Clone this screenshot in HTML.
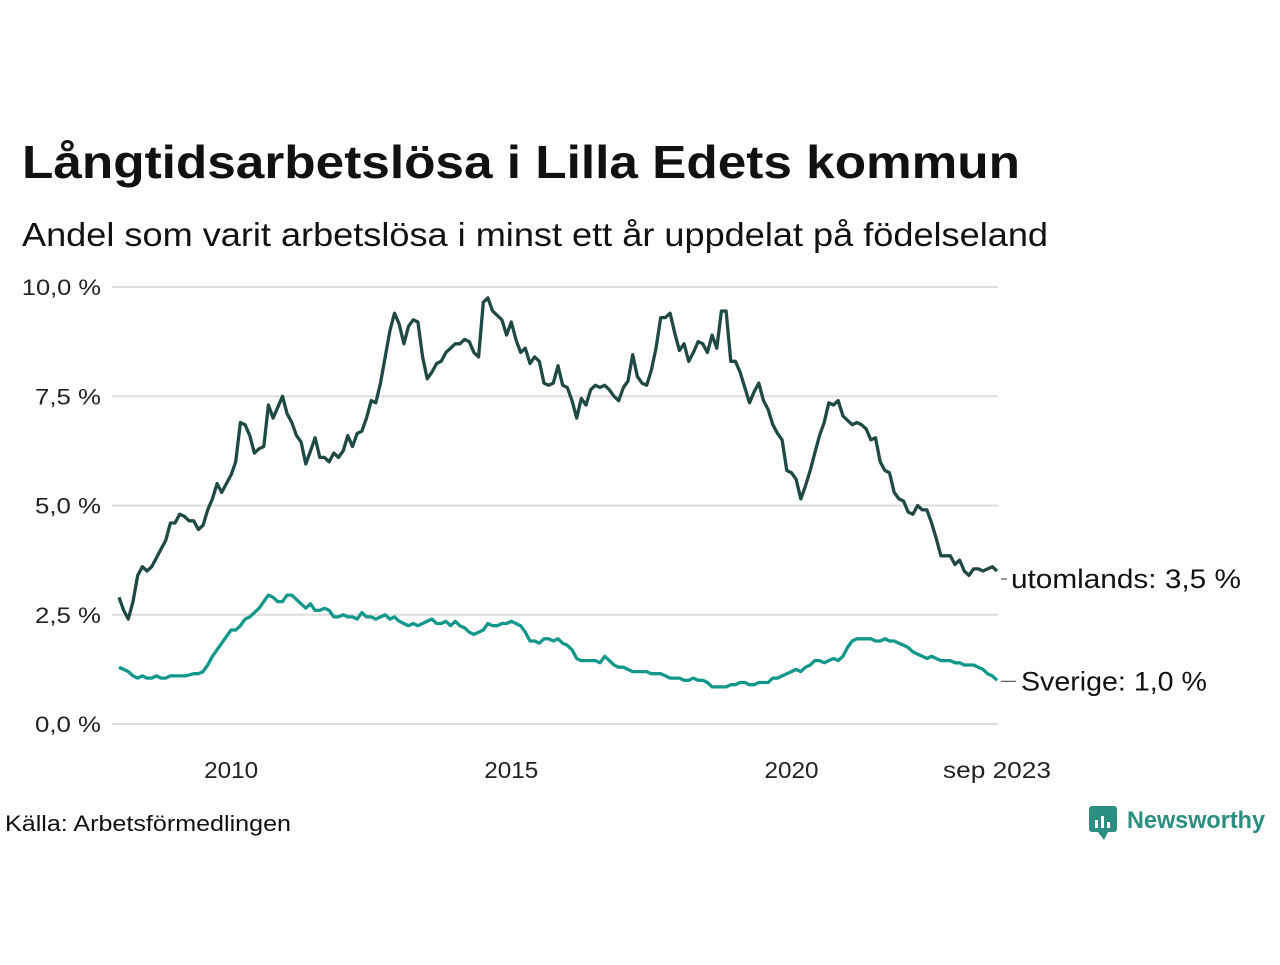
<!DOCTYPE html>
<html><head><meta charset="utf-8"><style>
body{margin:0;background:#fff;width:1280px;height:960px;overflow:hidden;font-family:"Liberation Sans",sans-serif}
</style></head><body>
<svg id="chart" width="1280" height="960" xmlns="http://www.w3.org/2000/svg" font-family="Liberation Sans, sans-serif">
<text x="22" y="178" font-size="46" font-weight="bold" fill="#111" textLength="998" lengthAdjust="spacingAndGlyphs">Långtidsarbetslösa i Lilla Edets kommun</text>
<text x="22" y="246" font-size="33" fill="#111" textLength="1026" lengthAdjust="spacingAndGlyphs">Andel som varit arbetslösa i minst ett år uppdelat på födelseland</text>
<g id="grid"></g><g id="lines"></g><g id="labels"></g>
<text x="5" y="831" font-size="22" fill="#111" textLength="286" lengthAdjust="spacingAndGlyphs">Källa: Arbetsförmedlingen</text>
<g>
<rect x="1089" y="806" width="28" height="26" rx="3" fill="#2a8f80"/>
<polygon points="1098,832 1104,840 1108,832" fill="#2a8f80"/>
<rect x="1095" y="820" width="3" height="8" fill="#fff"/><rect x="1101" y="816" width="3" height="12" fill="#fff"/><rect x="1107" y="822" width="3" height="6" fill="#fff"/>
<text x="1127" y="828" font-size="24" font-weight="bold" fill="#2a8f80" textLength="138" lengthAdjust="spacingAndGlyphs">Newsworthy</text>
</g>
</svg>
<script>
const yTicks=[0,2.5,5,7.5,10];
const yTickLabels=["0,0 %","2,5 %","5,0 %","7,5 %","10,0 %"];
const xTicks=[2010,2015,2020,2023.667];
const xTickLabels=["2010","2015","2020","sep 2023"];
const startYear=2008;
const foreign=[2.9,2.6,2.4,2.8,3.4,3.6,3.5,3.6,3.8,4.0,4.2,4.6,
4.6,4.8,4.75,4.65,4.65,4.45,4.55,4.9,5.15,5.5,5.3,5.5,
5.7,6.0,6.9,6.85,6.6,6.2,6.3,6.35,7.3,7.0,7.25,7.5,
7.1,6.9,6.6,6.45,5.95,6.25,6.55,6.1,6.1,6.0,6.2,6.1,
6.25,6.6,6.35,6.65,6.7,7.0,7.4,7.35,7.8,8.4,9.0,9.4,
9.15,8.7,9.1,9.25,9.2,8.4,7.9,8.05,8.25,8.3,8.5,8.6,
8.7,8.7,8.8,8.75,8.5,8.4,9.65,9.75,9.45,9.35,9.25,8.9,
9.2,8.8,8.5,8.6,8.25,8.4,8.3,7.8,7.75,7.8,8.2,7.75,
7.7,7.4,7.0,7.45,7.3,7.65,7.75,7.7,7.75,7.65,7.5,7.4,
7.7,7.85,8.45,7.95,7.8,7.75,8.1,8.6,9.3,9.3,9.4,8.95,
8.55,8.7,8.3,8.5,8.75,8.7,8.5,8.9,8.6,9.45,9.45,8.3,
8.3,8.05,7.7,7.35,7.6,7.8,7.4,7.2,6.85,6.65,6.5,5.8,
5.75,5.6,5.15,5.45,5.8,6.2,6.6,6.9,7.35,7.3,7.4,7.05,
6.95,6.85,6.9,6.85,6.75,6.5,6.55,6.0,5.8,5.75,5.3,5.15,
5.1,4.85,4.8,5.0,4.9,4.9,4.6,4.25,3.85,3.85,3.85,3.65,
3.75,3.5,3.4,3.55,3.55,3.5,3.55,3.6,3.5];
const sweden=[1.3,1.25,1.2,1.1,1.05,1.1,1.05,1.05,1.1,1.05,1.05,1.1,
1.1,1.1,1.1,1.12,1.15,1.15,1.2,1.35,1.55,1.7,1.85,2.0,
2.15,2.15,2.25,2.4,2.45,2.55,2.65,2.8,2.95,2.9,2.8,2.8,
2.95,2.95,2.85,2.75,2.65,2.75,2.6,2.6,2.65,2.6,2.45,2.45,
2.5,2.45,2.45,2.4,2.55,2.45,2.45,2.4,2.45,2.5,2.4,2.45,
2.35,2.3,2.25,2.3,2.25,2.3,2.35,2.4,2.3,2.3,2.35,2.25,
2.35,2.25,2.2,2.1,2.05,2.1,2.15,2.3,2.25,2.25,2.3,2.3,
2.35,2.3,2.25,2.1,1.9,1.9,1.85,1.95,1.95,1.9,1.95,1.85,
1.8,1.7,1.5,1.45,1.45,1.45,1.45,1.4,1.55,1.45,1.35,1.3,
1.3,1.25,1.2,1.2,1.2,1.2,1.15,1.15,1.15,1.1,1.05,1.05,
1.05,1.0,1.0,1.05,1.0,1.0,0.95,0.85,0.85,0.85,0.85,0.9,
0.9,0.95,0.95,0.9,0.9,0.95,0.95,0.95,1.05,1.05,1.1,1.15,
1.2,1.25,1.2,1.3,1.35,1.45,1.45,1.4,1.45,1.5,1.45,1.55,
1.75,1.9,1.95,1.95,1.95,1.95,1.9,1.9,1.95,1.9,1.9,1.85,
1.8,1.75,1.65,1.6,1.55,1.5,1.55,1.5,1.45,1.45,1.45,1.4,
1.4,1.35,1.35,1.35,1.3,1.25,1.15,1.1,1.0];
const NS="http://www.w3.org/2000/svg";
const X=t=>119+(t-2008)*56.04;
const Y=v=>724-v*43.7;
const tOf=i=>startYear+i/12;
function mk(tag,attrs,parent){const e=document.createElementNS(NS,tag);for(const k in attrs)e.setAttribute(k,attrs[k]);parent.appendChild(e);return e;}
const grid=document.getElementById('grid'),lines=document.getElementById('lines'),labels=document.getElementById('labels');
yTicks.forEach((v,i)=>{
 const l=mk('line',{x1:112,x2:998,y1:Y(v),y2:Y(v),stroke:'#dedede','stroke-width':2},grid);
 
 
 const t=mk('text',{x:101,y:Y(v)+8,'text-anchor':'end','font-size':22,fill:'#222',textLength:yTickLabels[i].length*13.2,lengthAdjust:'spacingAndGlyphs'},grid);
 t.textContent=yTickLabels[i];
 
 
});
xTicks.forEach((v,i)=>{
 const t=mk('text',{x:X(v),y:778,'text-anchor':'middle','font-size':23,fill:'#222',textLength:xTickLabels[i].length*13.5,lengthAdjust:'spacingAndGlyphs'},grid);
 t.textContent=xTickLabels[i];
 
 
});
function line(data,color,name){
 const d=data.map((v,i)=>(i?'L':'M')+X(tOf(i)).toFixed(1)+','+Y(v).toFixed(1)).join('');
 const p=mk('path',{d:d,fill:'none',stroke:color,'stroke-width':3.3,'stroke-linejoin':'round'},lines);
 
 
}
line(sweden,'#12988a','line-sverige');
line(foreign,'#1f4a43','line-utomlands');
function fmt(v){return v.toFixed(1).replace('.',',')+' %';}
const lastF=foreign[foreign.length-1],lastS=sweden[sweden.length-1];
const xe=X(tOf(foreign.length-1));
mk('line',{x1:xe+4,x2:xe+10,y1:Y(lastF)+8,y2:Y(lastF)+8,stroke:'#333','stroke-width':1},labels);
const t1=mk('text',{x:xe+14,y:Y(lastF)+17,'font-size':27,fill:'#111',textLength:230,lengthAdjust:'spacingAndGlyphs'},labels);
t1.textContent='utomlands: '+fmt(lastF);


mk('line',{x1:xe+4,x2:xe+19,y1:Y(lastS)+1,y2:Y(lastS)+1,stroke:'#333','stroke-width':1},labels);
const t2=mk('text',{x:xe+24,y:Y(lastS)+10,'font-size':27,fill:'#111',textLength:186,lengthAdjust:'spacingAndGlyphs'},labels);
t2.textContent='Sverige: '+fmt(lastS);


</script>
</body></html>
